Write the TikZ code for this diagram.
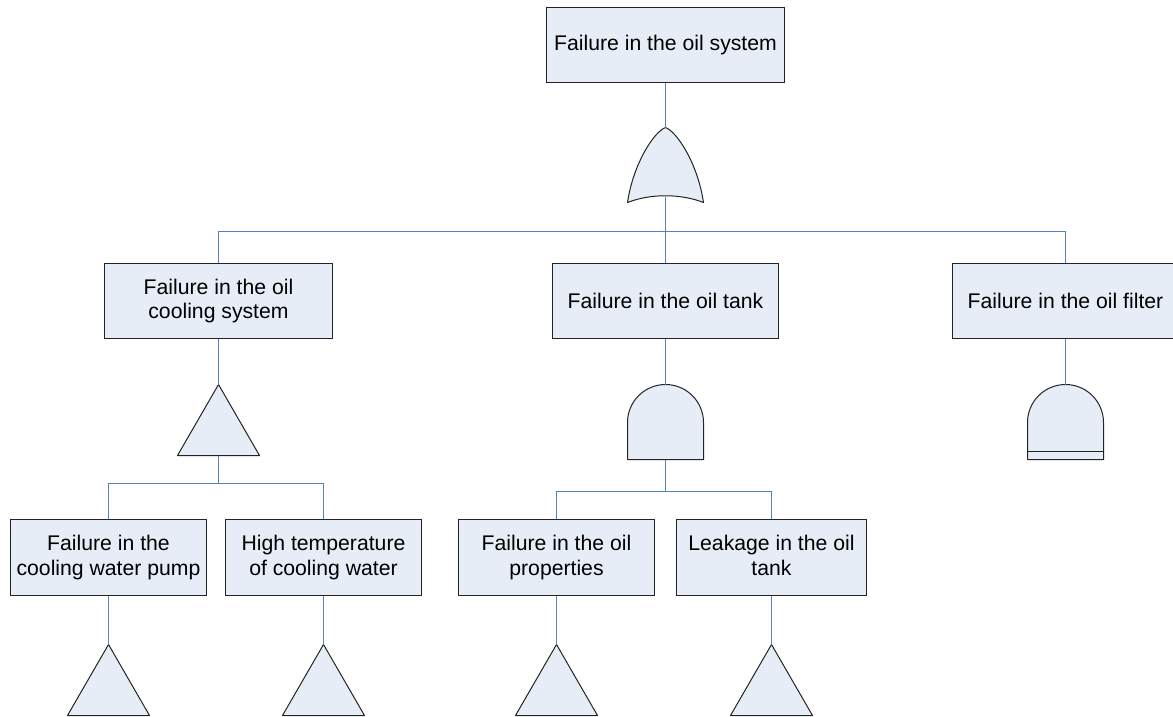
\documentclass[tikz,border=0pt]{standalone}
\usepackage{fontspec}
\setmainfont{Liberation Sans}
\definecolor{boxfill}{RGB}{231,237,247}
\definecolor{boxline}{RGB}{35,35,35}
\definecolor{wirecol}{RGB}{84,130,196}
\tikzset{
  evbox/.style={draw=boxline, fill=boxfill, line width=1pt, inner sep=0pt, align=center,
    font=\fontsize{21.2}{24.8}\selectfont, minimum height=75},
  gatestyle/.style={draw=boxline, fill=boxfill, line width=1pt, line join=round},
  wire/.style={draw=wirecol, line width=1.4pt},
  orgate/.pic={
    \draw[gatestyle] (-38,75) .. controls (-32,35) and (-11,4) .. (0,0)
      .. controls (11,4) and (32,35) .. (38,75)
      .. controls (15,66) and (-15,66) .. cycle;
    \coordinate (-top) at (0,0);
    \coordinate (-bot) at (0,69);
  },
  andgate/.pic={
    \draw[gatestyle] (-38,75) -- (-38,38) .. controls (-38,17) and (-21,0) .. (0,0)
      .. controls (21,0) and (38,17) .. (38,38) -- (38,75) -- cycle;
    \coordinate (-top) at (0,0);
    \coordinate (-bot) at (0,75);
  },
  andbargate/.pic={
    \draw[gatestyle] (-38,75) -- (-38,38) .. controls (-38,17) and (-21,0) .. (0,0)
      .. controls (21,0) and (38,17) .. (38,38) -- (38,75) -- cycle;
    \draw[gatestyle] (-38,67) -- (38,67);
    \coordinate (-top) at (0,0);
    \coordinate (-bot) at (0,75);
  },
  trigate/.pic={
    \draw[gatestyle] (0,0) -- (41,71) -- (-41,71) -- cycle;
    \coordinate (-top) at (0,0);
    \coordinate (-bot) at (0,71);
  }
}
\begin{document}
\begin{tikzpicture}[x=1pt, y=-1pt]
\useasboundingbox (0,0) rectangle (1173,717);
\clip (0,0) rectangle (1173,717);
\begin{scope}[shift={(0.5,0.5)}]
% event boxes
\node[evbox, minimum width=238] (top) at (665,44.5) {Failure in the oil system};
\node[evbox, minimum width=228] (L) at (218,300.5) {Failure in the oil\\cooling system};
\node[evbox, minimum width=226] (M) at (665,300.5) {Failure in the oil tank};
\node[evbox, minimum width=226] (R) at (1065,300.5) {Failure in the oil filter};
\node[evbox, minimum width=196, minimum height=76] (A) at (108,557) {Failure in the\\cooling water pump};
\node[evbox, minimum width=196, minimum height=76] (B) at (323,557) {High temperature\\of cooling water};
\node[evbox, minimum width=196, minimum height=76] (C) at (556,557) {Failure in the oil\\properties};
\node[evbox, minimum width=190, minimum height=76] (D) at (771,557) {Leakage in the oil\\tank\vphantom{p}};

% gates
\pic (g0) at (665,127) {orgate};
\pic (g1) at (218,384) {trigate};
\pic (g2) at (665,384) {andgate};
\pic (g3) at (1065,384) {andbargate};
\pic (tA) at (108,644) {trigate};
\pic (tB) at (323,644) {trigate};
\pic (tC) at (556,644) {trigate};
\pic (tD) at (771,644) {trigate};

% bus points
\coordinate (b0) at (665,231);
\coordinate (b1) at (218,483);
\coordinate (b2) at (665,491);

% connectors
\draw[wire] (top.south) -- (g0-top);
\draw[wire] (g0-bot) -- (M.north);
\draw[wire] (L.north) |- (b0) -| (R.north);
\draw[wire] (L.south) -- (g1-top);
\draw[wire] (g1-bot) -- (b1);
\draw[wire] (A.north) |- (b1) -| (B.north);
\draw[wire] (M.south) -- (g2-top);
\draw[wire] (g2-bot) -- (b2);
\draw[wire] (C.north) |- (b2) -| (D.north);
\draw[wire] (R.south) -- (g3-top);
\draw[wire] (A.south) -- (tA-top);
\draw[wire] (B.south) -- (tB-top);
\draw[wire] (C.south) -- (tC-top);
\draw[wire] (D.south) -- (tD-top);
\end{scope}
\end{tikzpicture}
\end{document}
